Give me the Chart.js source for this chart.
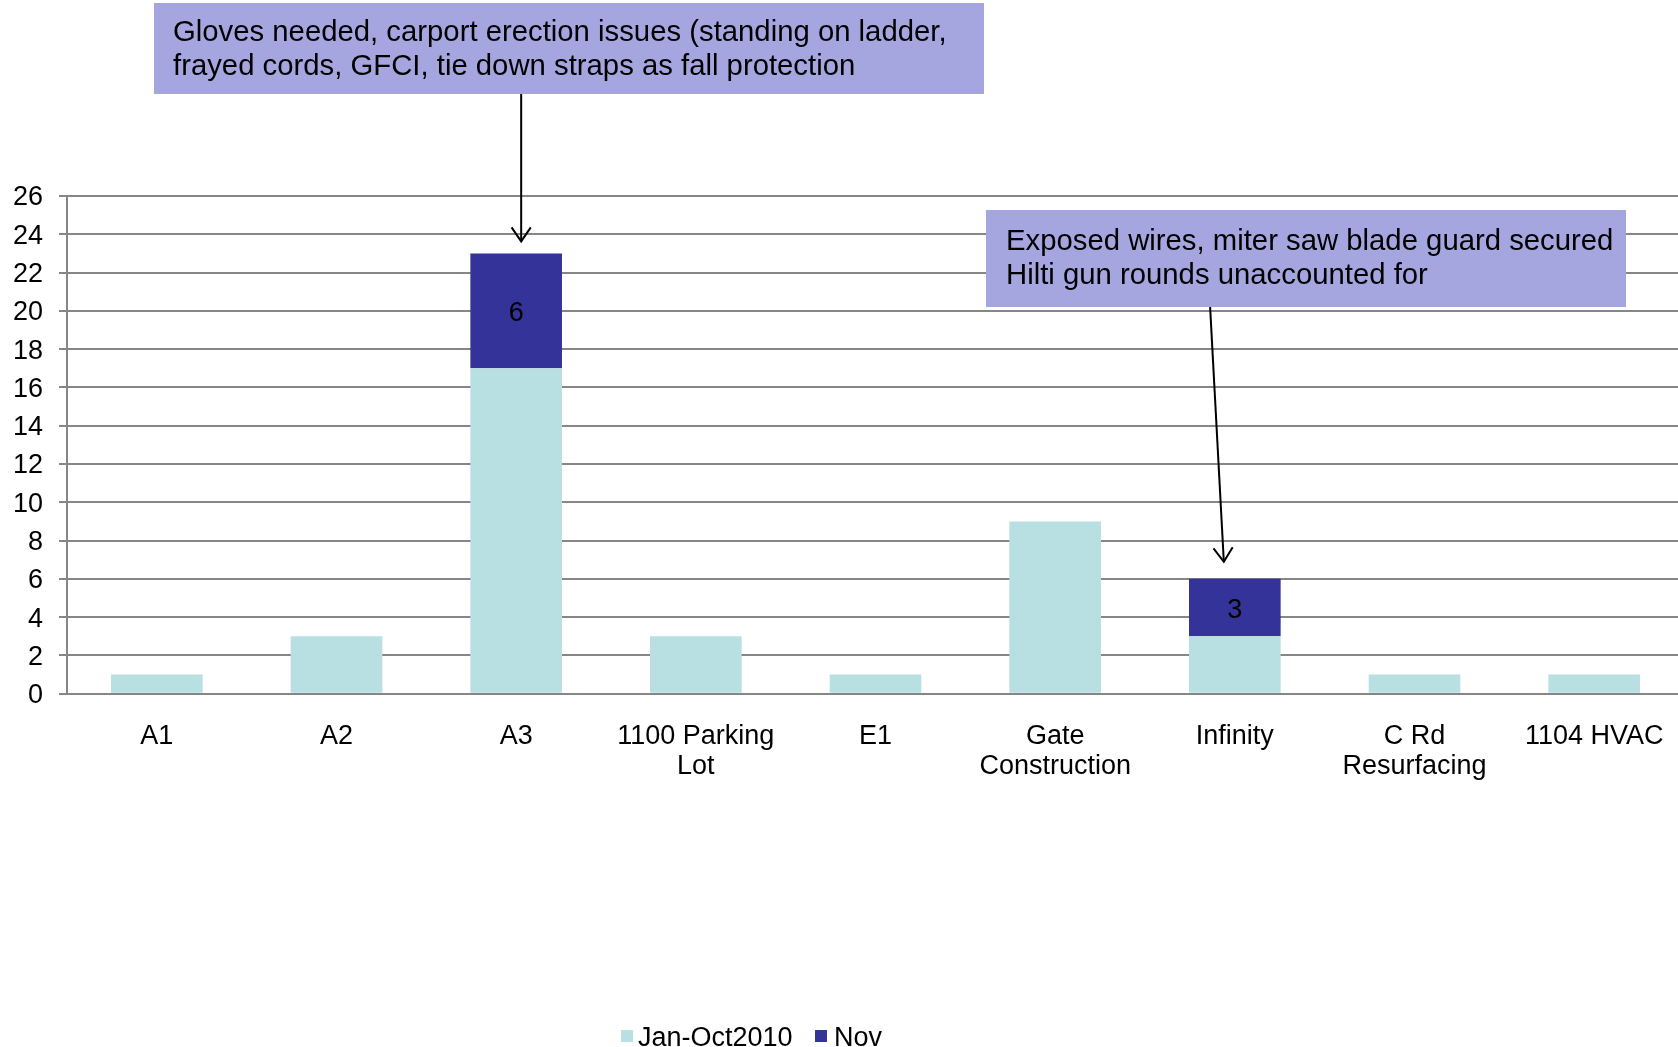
<!DOCTYPE html>
<html>
<head>
<meta charset="utf-8">
<script src="https://cdn.jsdelivr.net/npm/chart.js@4.4.1/dist/chart.umd.min.js"></script>
<style>
  html, body { margin: 0; padding: 0; background: #ffffff; overflow: hidden; }
  #wrap { position: absolute; left: 0; top: 0; width: 1684px; height: 1047px; }
</style>
</head>
<body>
<div id="wrap"><canvas id="c" width="1684" height="1047"></canvas></div>
<script>
// ---- data ----
const categories = ['A1', 'A2', 'A3', ['1100 Parking', 'Lot'], 'E1', ['Gate', 'Construction'], 'Infinity', ['C Rd', 'Resurfacing'], '1104 HVAC'];
const seriesNames = ['Jan-Oct2010', 'Nov'];
const janOct = [1, 3, 17, 3, 1, 9, 3, 1, 1];
const nov = [null, null, 6, null, null, null, 3, null, null];
const yTicks = { min: 0, max: 26, step: 2 };
const note1 = ['Gloves needed, carport erection issues (standing on ladder,', 'frayed cords, GFCI, tie down straps as fall protection'];
const note2 = ['Exposed wires, miter saw blade guard secured', 'Hilti gun rounds unaccounted for'];

// ---- styles ----
const FONT = "'Liberation Sans', Arial, sans-serif";
const colTeal = '#b8dfe2';
const colNavy = '#333399';
const colGrid = '#868686';
const colNote = '#a5a5e0';

const annotPlugin = {
  id: 'annot',
  afterDatasetsDraw(chart) {
    const ctx = chart.ctx;
    const meta = chart.getDatasetMeta(1);
    ctx.save();
    ctx.font = '27px ' + FONT;
    ctx.fillStyle = '#000';
    ctx.textAlign = 'center';
    ctx.textBaseline = 'middle';
    meta.data.forEach((el, i) => {
      const v = chart.data.datasets[1].data[i];
      if (v == null) return;
      ctx.fillText(String(v), el.x, (el.y + el.base) / 2 + 3);
    });
    ctx.restore();
  },
  afterDraw(chart) {
    const ctx = chart.ctx;
    const xs = chart.scales.x, ys = chart.scales.y;
    function arrow(x1, y1, x2, y2) {
      ctx.save();
      ctx.strokeStyle = '#000';
      ctx.lineWidth = 2;
      ctx.beginPath();
      ctx.moveTo(x1, y1);
      ctx.lineTo(x2, y2);
      ctx.stroke();
      const a = Math.atan2(y2 - y1, x2 - x1);
      const L = 17, sp = 0.6;
      ctx.beginPath();
      ctx.moveTo(x2 - L * Math.cos(a - sp), y2 - L * Math.sin(a - sp));
      ctx.lineTo(x2, y2);
      ctx.lineTo(x2 - L * Math.cos(a + sp), y2 - L * Math.sin(a + sp));
      ctx.stroke();
      ctx.restore();
    }
    function box(x, y, w, h, lines, tx, ty, lh) {
      ctx.save();
      ctx.fillStyle = colNote;
      ctx.fillRect(x, y, w, h);
      ctx.fillStyle = '#000';
      ctx.font = '29.3px ' + FONT;
      ctx.textAlign = 'left';
      ctx.textBaseline = 'middle';
      lines.forEach((t, i) => ctx.fillText(t, tx, ty + i * lh));
      ctx.restore();
    }
    arrow(xs.getPixelForValue(2) + 5, 90, xs.getPixelForValue(2) + 5, ys.getPixelForValue(23) - 12);
    arrow(1210, 305, xs.getPixelForValue(6) - 11, ys.getPixelForValue(6) - 17);
    box(154, 3, 830, 91, note1, 173, 33, 34);
    box(986, 210, 640, 97, note2, 1006, 242, 34);

    // legend
    ctx.save();
    ctx.font = '27px ' + FONT;
    ctx.textAlign = 'left';
    ctx.textBaseline = 'middle';
    const ly = 1039;
    const items = [{ bx: 621, tx: 638 }, { bx: 815, tx: 834 }];
    chart.data.datasets.forEach((ds, i) => {
      ctx.fillStyle = ds.backgroundColor;
      ctx.fillRect(items[i].bx, ly - 9, 12, 12);
      ctx.fillStyle = '#000';
      ctx.fillText(ds.label, items[i].tx, ly);
    });
    ctx.restore();
  }
};

new Chart(document.getElementById('c'), {
  type: 'bar',
  data: {
    labels: categories,
    datasets: [
      { label: seriesNames[0], data: janOct, backgroundColor: colTeal, borderWidth: 0 },
      { label: seriesNames[1], data: nov, backgroundColor: colNavy, borderWidth: 0 }
    ]
  },
  options: {
    responsive: false,
    animation: false,
    devicePixelRatio: 1,
    layout: { padding: { top: 196, left: 0, right: 0, bottom: 0 } },
    datasets: { bar: { categoryPercentage: 1.0, barPercentage: 0.51 } },
    plugins: {
      legend: { display: false },
      tooltip: { enabled: false },
      title: { display: false }
    },
    scales: {
      x: {
        stacked: true,
        grid: { display: false, drawTicks: false },
        border: { display: true, color: colGrid, width: 2 },
        ticks: { color: '#000', font: { family: FONT, size: 27, lineHeight: 1.1 }, padding: 28, maxRotation: 0, autoSkip: false },
        afterFit(s) { s.height = 353.3; s.paddingLeft = 0; s.paddingRight = 0; }
      },
      y: {
        stacked: true,
        min: yTicks.min,
        max: yTicks.max,
        grid: { color: colGrid, lineWidth: 2, tickLength: 8, drawTicks: true },
        border: { display: true, color: colGrid, width: 2 },
        ticks: { stepSize: yTicks.step, color: '#000', font: { family: FONT, size: 27 }, padding: 16, labelOffset: 2 },
        afterFit(s) { s.width = 67; }
      }
    }
  },
  plugins: [annotPlugin]
});
</script>
</body>
</html>
